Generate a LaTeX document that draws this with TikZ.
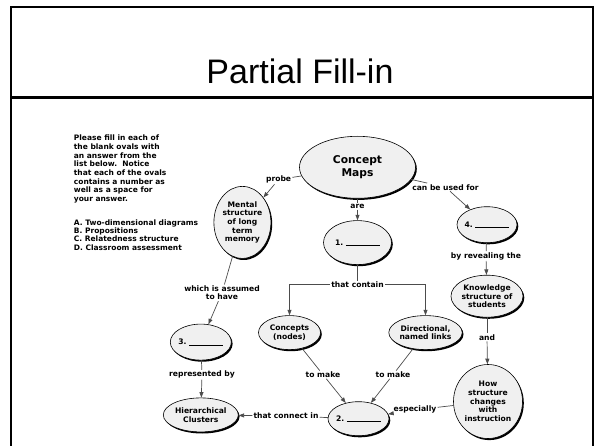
\documentclass[tikz,border=0pt]{standalone}
\usepackage{fontspec}
\setmainfont{DejaVu Sans}
\newfontfamily\titlefont{Liberation Sans}
\usetikzlibrary{shapes, arrows.meta, shadows, positioning}
\tikzstyle{oval}=[ellipse, draw=black, line width=0.6pt, fill=gray!12,
    inner sep=0pt, align=center, font=\bfseries\fontsize{7.6}{8.7}\selectfont,
    drop shadow={shadow xshift=1.3pt, shadow yshift=-1.6pt, fill=black, opacity=1}]
\tikzstyle{blankoval}=[oval, inner xsep=-3pt, minimum width=61pt, minimum height=35pt]
\tikzstyle{lab}=[inner sep=1pt, align=center, font=\bfseries\fontsize{7.6}{8.4}\selectfont]
\tikzstyle{txt}=[inner sep=0pt, align=left, font=\bfseries\fontsize{7.5}{8.7}\selectfont]
\tikzstyle{link}=[draw=black!70, line width=0.7pt]
\tikzstyle{arr}=[link, -{Triangle[length=5.5pt, width=4pt]}]
\newcommand{\fillblank}[1]{#1.~\rule[-0.4pt]{34pt}{0.6pt}}

\begin{document}
\begin{tikzpicture}[x=1pt, y=-1pt]
    \useasboundingbox (0,0) rectangle (600,446);
    \draw[line width=2pt] (11,446) -- (11,7) -- (593,7) -- (593,446);
    \draw[line width=3pt] (11,98) -- (593,98);
    \node (title) [font=\titlefont\fontsize{34}{40}\selectfont] at (300,71) {Partial Fill-in};
    \node (instr) [txt, anchor=north west] at (73.7,134.8)
        {Please fill in each of\\the blank ovals with\\an answer from the\\list below.\ \ Notice\\that each of the ovals\\contains a number as\\well as a space for\\your answer.};
    \node (choices) [txt, font=\bfseries\fontsize{7.5}{8.3}\selectfont,
        below right=16pt and 0pt of instr.south west]
        {A. Two-dimensional diagrams\\B. Propositions\\C. Relatedness structure\\D. Classroom assessment};
    \node (cm) [oval, minimum width=116pt, minimum height=62pt,
        font=\bfseries\fontsize{10.7}{13}\selectfont] at (357.5,167.3) {Concept\\Maps};
    \node (mental) [oval, minimum width=57pt, minimum height=72pt] at (242.4,222.4)
        {Mental\\structure\\of long\\term\\memory};
    \node (one) [blankoval, minimum width=68pt, minimum height=44pt] at (357.5,242.6) {\fillblank{1}};
    \node (four) [blankoval, minimum width=60pt, minimum height=36pt] at (487,224.7) {\fillblank{4}};
    \node (know) [oval, minimum width=72pt, minimum height=42pt] at (487,296.2)
        {Knowledge\\structure of\\students};
    \node (how) [oval, minimum width=69pt, minimum height=74pt] at (488,401.5)
        {How\\structure\\changes\\with\\instruction};
    \node (concepts) [oval, minimum width=62pt, minimum height=34pt] at (289.5,332.6) {Concepts\\(nodes)};
    \node (directional) [oval, minimum width=73pt, minimum height=34pt] at (425.5,332.6)
        {Directional,\\named links};
    \node (three) [blankoval, minimum height=36pt] at (200.8,342.1) {\fillblank{3}};
    \node (hier) [oval, minimum width=75pt, minimum height=34pt] at (200.8,414.9)
        {Hierarchical\\Clusters};
    \node (two) [blankoval, minimum height=34pt] at (358.5,418.7) {\fillblank{2}};
    \node (probe) [lab] at (278.6,179.5) {probe};
    \node (are) [lab] at (357.5,206.3) {are};
    \node (canbe) [lab] at (445.5,187.2) {can be used for};
    \node (reveal) [lab] at (486,256) {by revealing the};
    \node (contain) [lab] at (357.5,284.7) {that contain};
    \node (assumed) [lab] at (222,292.8) {which is assumed\\to have};
    \node (andlink) [lab] at (487,337.2) {and};
    \node (repr) [lab] at (202,374.7) {represented by};
    \node (tomakeL) [lab] at (323,374.7) {to make};
    \node (tomakeR) [lab] at (393,374.7) {to make};
    \node (connect) [lab] at (286,416) {that connect in};
    \node (especially) [lab] at (415,409.9) {especially};
    \draw[link] (cm) -- (probe);
    \draw[arr] (probe) -- (mental);
    \draw[link] (cm) -- (are);
    \draw[arr] (are) -- (one);
    \draw[link] (cm) -- (canbe);
    \draw[arr] (canbe) -- (four);
    \draw[link] (four) -- (reveal);
    \draw[arr] (reveal) -- (know);
    \draw[link] (know) -- (andlink);
    \draw[arr] (andlink) -- (how);
    \draw[link] (one) -- (contain);
    \draw[arr] (contain.west) -| (concepts.north);
    \draw[arr] (contain.east) -| (directional.north);
    \draw[link] (mental) -- (assumed);
    \draw[arr] (assumed) -- (three);
    \draw[link] (three) -- (repr);
    \draw[arr] (repr) -- (hier);
    \draw[link] (concepts) -- (tomakeL);
    \draw[arr] (tomakeL) -- (two);
    \draw[link] (directional) -- (tomakeR);
    \draw[arr] (tomakeR) -- (two);
    \draw[link] (two) -- (connect);
    \draw[arr] (connect) -- (hier);
    \draw[link] (how) -- (especially);
    \draw[arr] (especially) -- (two);
\end{tikzpicture}
\end{document}
